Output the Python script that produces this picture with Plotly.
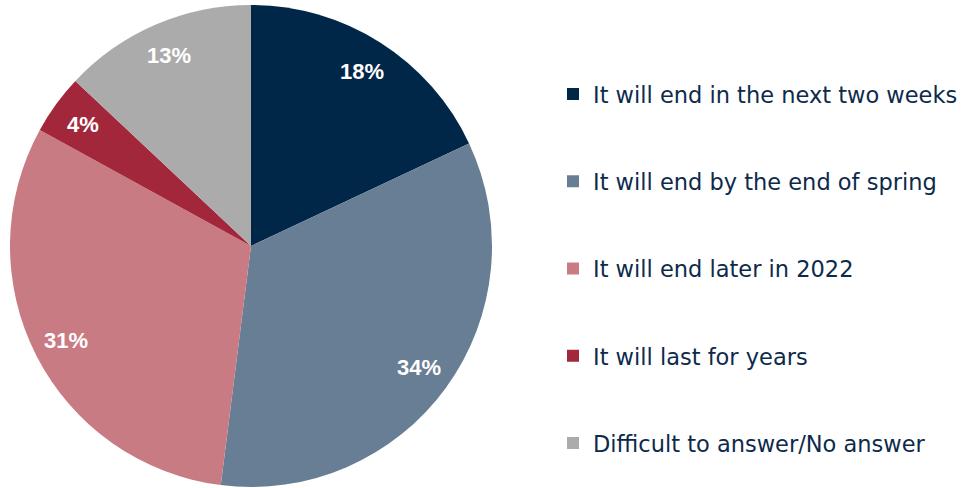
import math
import plotly.graph_objects as go

labels = ["It will end in the next two weeks", "It will end by the end of spring",
          "It will end later in 2022", "It will last for years", "Difficult to answer/No answer"]
values = [18, 34, 31, 4, 13]
colors = ["#002648", "#687E94", "#C97B84", "#A3273A", "#ABABAB"]

W, H = 964, 488
cx, cy, r = 251, 246, 241

fig = go.Figure()
fig.add_trace(go.Pie(
    labels=labels, values=values, sort=False, direction="clockwise", rotation=0,
    marker=dict(colors=colors, line=dict(width=0)),
    textinfo="none", showlegend=False, hoverinfo="label+percent",
    domain=dict(x=[(cx - r) / W, (cx + r) / W], y=[1 - (cy + r) / H, 1 - (cy - r) / H]),
))

# legend entries
for i, (lab, col) in enumerate(zip(labels, colors)):
    fig.add_trace(go.Scatter(
        x=[None], y=[None], mode="markers", name=lab, legendgroup=f"g{i}",
        marker=dict(symbol="square", size=12, color=col), showlegend=True,
    ))

# percentage labels placed from the data values
total = sum(values)
cum = 0
for v in values:
    mid = (cum + v / 2) / total * 2 * math.pi
    cum += v
    rr = 0.86 * r
    px = cx + rr * math.sin(mid)
    py = cy - rr * math.cos(mid)
    fig.add_annotation(
        x=px / W, y=1 - py / H, xref="paper", yref="paper", showarrow=False,
        xanchor="center", yanchor="middle",
        text=f"{round(v / total * 100)}%",
        font=dict(family="Liberation Sans, Arial", size=22, color="white", weight="bold"),
    )

fig.update_layout(
    width=W, height=H, margin=dict(l=0, r=0, t=0, b=0, autoexpand=False),
    paper_bgcolor="white", plot_bgcolor="white",
    xaxis=dict(visible=False), yaxis=dict(visible=False),
    legend=dict(
        x=553 / W, xanchor="left", y=0.449, yanchor="middle",
        font=dict(family="DejaVu Sans", size=22.5, color="#0D2A4B"),
        tracegroupgap=55, itemwidth=30, bgcolor="rgba(0,0,0,0)",
    ),
)

fig.write_html("out.html", config={"displayModeBar": False},
               post_script="document.body.style.margin='0';document.body.style.padding='0';")
